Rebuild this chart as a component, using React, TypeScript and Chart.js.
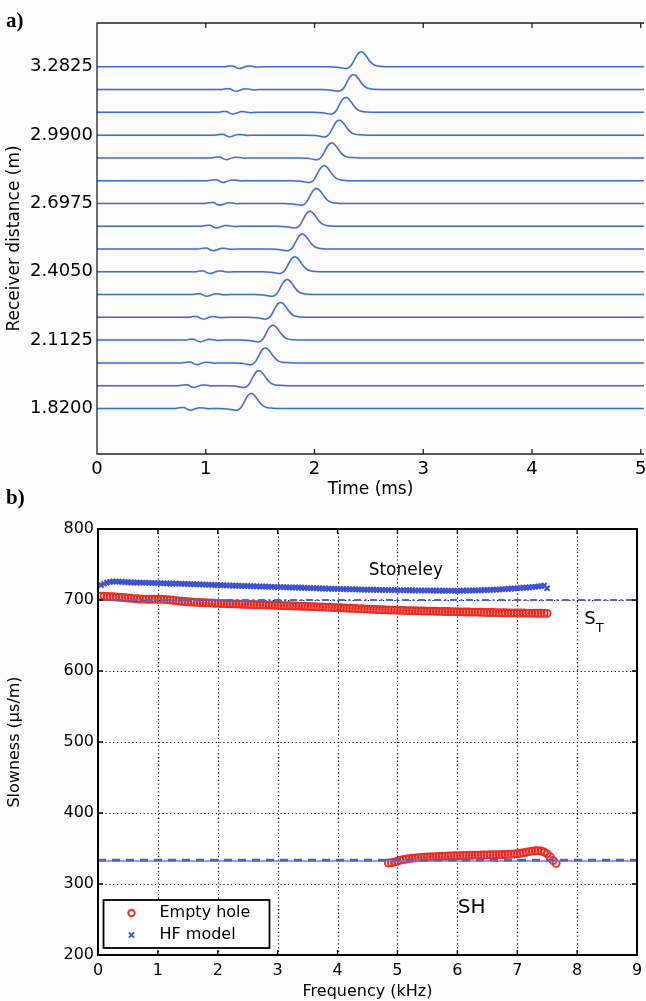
import React, { useEffect, useRef } from "react";
import { Chart, registerables } from "chart.js";

Chart.register(...registerables);

const SANS = "'DejaVu Sans', 'Liberation Sans', sans-serif";

// ---------------- Panel a) : waveforms ----------------
const receiverDistance = [1.82, 1.9175, 2.015, 2.1125, 2.21, 2.3075, 2.405, 2.5025, 2.6, 2.6975, 2.795, 2.8925, 2.99, 3.0875, 3.185, 3.2825];
const distanceTickValues = [1.82, 2.1125, 2.405, 2.6975, 2.99, 3.2825];
const timeTickValues = [0, 1, 2, 3, 4, 5];
// arrival (peak) time of the Stoneley pulse on each trace, ms
const stoneleyPeakTime = [1.42, 1.49, 1.55, 1.62, 1.69, 1.75, 1.82, 1.89, 1.96, 2.02, 2.09, 2.16, 2.23, 2.29, 2.36, 2.43];
// onset of the small early (shear) wiggle on each trace, ms
const shWiggleStart = [0.72, 0.75, 0.78, 0.81, 0.84, 0.87, 0.9, 0.93, 0.96, 0.99, 1.02, 1.05, 1.08, 1.11, 1.14, 1.17];
// pulse shape (time offset from peak, ms / relative amplitude)
const pulseOffset = [-0.3, -0.22, -0.17, -0.14, -0.115, -0.09, -0.065, -0.04, -0.02, 0, 0.02, 0.045, 0.07, 0.095, 0.12, 0.15, 0.19, 0.26];
const pulseShape = [0, -0.03, -0.09, -0.12, -0.06, 0.12, 0.45, 0.78, 0.95, 1, 0.93, 0.72, 0.46, 0.25, 0.12, 0.05, 0.02, 0];
const wiggleOffset = [0, 0.04, 0.08, 0.11, 0.14, 0.18, 0.22, 0.26, 0.3, 0.36];
const wiggleShape = [0, 0.05, 0.06, -0.05, -0.12, -0.03, 0.05, 0.03, -0.02, 0];
const pulseAmplitude = 0.064; // m, peak height of the pulse on the distance axis
const timeMin = 0;
const timeMax = 5.03;

// ---------------- Panel b) : dispersion ----------------
const freqTickValues = [0, 1, 2, 3, 4, 5, 6, 7, 8, 9];
const slownessTickValues = [200, 300, 400, 500, 600, 700, 800];
const stoneleyFreq = [
  0.05, 0.1, 0.15, 0.2, 0.25, 0.3, 0.35, 0.4, 0.45, 0.5,
  0.55, 0.6, 0.65, 0.7, 0.75, 0.8, 0.85, 0.9, 0.95, 1.0,
  1.05, 1.1, 1.15, 1.2, 1.25, 1.3, 1.35, 1.4, 1.45, 1.5,
  1.55, 1.6, 1.65, 1.7, 1.75, 1.8, 1.85, 1.9, 1.95, 2.0,
  2.05, 2.1, 2.15, 2.2, 2.25, 2.3, 2.35, 2.4, 2.45, 2.5,
  2.55, 2.6, 2.65, 2.7, 2.75, 2.8, 2.85, 2.9, 2.95, 3.0,
  3.05, 3.1, 3.15, 3.2, 3.25, 3.3, 3.35, 3.4, 3.45, 3.5,
  3.55, 3.6, 3.65, 3.7, 3.75, 3.8, 3.85, 3.9, 3.95, 4.0,
  4.05, 4.1, 4.15, 4.2, 4.25, 4.3, 4.35, 4.4, 4.45, 4.5,
  4.55, 4.6, 4.65, 4.7, 4.75, 4.8, 4.85, 4.9, 4.95, 5.0,
  5.05, 5.1, 5.15, 5.2, 5.25, 5.3, 5.35, 5.4, 5.45, 5.5,
  5.55, 5.6, 5.65, 5.7, 5.75, 5.8, 5.85, 5.9, 5.95, 6.0,
  6.05, 6.1, 6.15, 6.2, 6.25, 6.3, 6.35, 6.4, 6.45, 6.5,
  6.55, 6.6, 6.65, 6.7, 6.75, 6.8, 6.85, 6.9, 6.95, 7.0,
  7.05, 7.1, 7.15, 7.2, 7.25, 7.3, 7.35, 7.4, 7.45, 7.5,
];
const stoneleyHFModel = [
  721, 723, 724.5, 725.5, 726, 726, 725.8, 725.5, 725.2, 725,
  724.8, 724.6, 724.5, 724.4, 724.3, 724.2, 724.1, 724, 723.9, 723.8,
  723.7, 723.6, 723.4, 723.3, 723.2, 723.1, 722.9, 722.8, 722.6, 722.5,
  722.4, 722.2, 722.1, 721.9, 721.8, 721.6, 721.5, 721.3, 721.2, 721.0,
  720.9, 720.7, 720.6, 720.5, 720.3, 720.2, 720.0, 719.9, 719.8, 719.6,
  719.5, 719.3, 719.2, 719.1, 719.0, 718.8, 718.7, 718.6, 718.4, 718.3,
  718.2, 718.0, 717.9, 717.8, 717.6, 717.5, 717.4, 717.2, 717.1, 716.9,
  716.8, 716.7, 716.5, 716.4, 716.3, 716.2, 716.0, 715.9, 715.8, 715.6,
  715.5, 715.4, 715.3, 715.2, 715.1, 715.0, 714.9, 714.8, 714.6, 714.5,
  714.4, 714.4, 714.3, 714.2, 714.2, 714.1, 714.0, 714.0, 713.9, 713.8,
  713.8, 713.7, 713.7, 713.6, 713.6, 713.5, 713.5, 713.4, 713.4, 713.3,
  713.3, 713.2, 713.2, 713.2, 713.1, 713.1, 713.1, 713.1, 713.1, 713.1,
  713.1, 713.2, 713.2, 713.3, 713.4, 713.5, 713.6, 713.7, 713.9, 714.0,
  714.2, 714.4, 714.6, 714.8, 715.1, 715.4, 715.7, 716.0, 716.3, 716.6,
  716.9, 717.2, 717.5, 717.8, 718.2, 718.6, 719.0, 719.6, 720.3, 716.5,
];
const stoneleyEmptyHole = [
  705.5, 705.3, 705.0, 704.8, 704.5, 704.2, 703.9, 703.6, 703.2, 702.8,
  702.4, 702.0, 701.7, 701.4, 701.2, 701.1, 701.0, 701.0, 701.1, 701.1,
  701.0, 700.8, 700.5, 700.1, 699.6, 699.1, 698.6, 698.2, 697.8, 697.5,
  697.2, 697.0, 696.7, 696.5, 696.3, 696.1, 695.9, 695.7, 695.5, 695.3,
  695.1, 695.0, 694.8, 694.6, 694.5, 694.3, 694.2, 694.0, 693.9, 693.7,
  693.6, 693.5, 693.3, 693.2, 693.1, 692.9, 692.8, 692.7, 692.5, 692.4,
  692.3, 692.1, 692.0, 691.8, 691.7, 691.5, 691.4, 691.2, 691.1, 690.9,
  690.7, 690.6, 690.4, 690.2, 690.1, 689.9, 689.7, 689.5, 689.4, 689.2,
  689.0, 688.8, 688.6, 688.4, 688.2, 688.0, 687.8, 687.6, 687.4, 687.2,
  687.0, 686.8, 686.6, 686.4, 686.3, 686.1, 686.0, 685.8, 685.7, 685.5,
  685.4, 685.3, 685.1, 685.0, 684.9, 684.8, 684.7, 684.6, 684.5, 684.4,
  684.3, 684.2, 684.1, 684.0, 683.9, 683.8, 683.7, 683.6, 683.5, 683.4,
  683.3, 683.2, 683.1, 683.0, 682.9, 682.9, 682.8, 682.7, 682.6, 682.5,
  682.4, 682.3, 682.2, 682.2, 682.1, 682.0, 681.9, 681.9, 681.8, 681.7,
  681.7, 681.6, 681.5, 681.5, 681.4, 681.4, 681.3, 681.3, 681.2, 681.2,
];
const shFreq = [
  4.85, 4.9, 4.95, 5.0, 5.05, 5.1, 5.15, 5.2, 5.25, 5.3,
  5.35, 5.4, 5.45, 5.5, 5.55, 5.6, 5.65, 5.7, 5.75, 5.8,
  5.85, 5.9, 5.95, 6.0, 6.05, 6.1, 6.15, 6.2, 6.25, 6.3,
  6.35, 6.4, 6.45, 6.5, 6.55, 6.6, 6.65, 6.7, 6.75, 6.8,
  6.85, 6.9, 6.95, 7.0, 7.05, 7.1, 7.15, 7.2, 7.25, 7.3,
  7.35, 7.4, 7.45, 7.5, 7.55, 7.6, 7.65,
];
const shEmptyHole = [
  329.5, 330, 331, 332, 333.5, 334.5, 335.2, 335.8, 336.3, 336.7,
  337.1, 337.4, 337.7, 338.0, 338.2, 338.4, 338.6, 338.8, 339.0, 339.2,
  339.4, 339.6, 339.7, 339.9, 340.0, 340.2, 340.3, 340.4, 340.5, 340.6,
  340.7, 340.8, 340.9, 341.0, 341.1, 341.2, 341.3, 341.4, 341.5, 341.6,
  341.8, 342.0, 342.3, 342.7, 343.3, 344.0, 344.8, 345.6, 346.3, 346.8,
  347.0, 346.5, 345.0, 342.5, 338.5, 333, 329,
];
const tubeWaveSlowness = 700; // S_T
const shSlownessLine = 333.5; // SH (dashed)
const shHFModel = 332.5; // HF model SH (solid)

const RED = "rgb(238, 45, 35)";
const BLUE = "rgb(62, 82, 205)";

function buildTrace(i: number) {
  const base = receiverDistance[i];
  const pts: { x: number; y: number }[] = [{ x: timeMin, y: base }];
  wiggleOffset.forEach((o, k) => pts.push({ x: shWiggleStart[i] + o, y: base + pulseAmplitude * wiggleShape[k] }));
  pulseOffset.forEach((o, k) => pts.push({ x: stoneleyPeakTime[i] + o, y: base + pulseAmplitude * pulseShape[k] }));
  pts.push({ x: timeMax, y: base });
  return pts;
}

const topFrame = {
  id: "topFrame",
  afterDraw(chart: any) {
    const { ctx, chartArea: a, scales } = chart;
    const x = scales.x;
    ctx.save();
    ctx.strokeStyle = "#222";
    ctx.lineWidth = 1.3;
    ctx.beginPath();
    ctx.moveTo(a.right, a.top);
    ctx.lineTo(a.left, a.top);
    ctx.lineTo(a.left, a.bottom);
    ctx.lineTo(a.right, a.bottom);
    timeTickValues.forEach((v) => {
      if (v === 0) return;
      const px = x.getPixelForValue(v);
      ctx.moveTo(px, a.top);
      ctx.lineTo(px, a.top + 5);
      ctx.moveTo(px, a.bottom);
      ctx.lineTo(px, a.bottom - 5);
    });
    ctx.stroke();
    ctx.restore();
  },
};

const bottomPlugin = {
  id: "bottomDecor",
  beforeDraw(chart: any) {
    const { ctx, chartArea: a } = chart;
    ctx.save();
    ctx.fillStyle = "#ffffff";
    ctx.fillRect(a.left, a.top, a.right - a.left, a.bottom - a.top);
    ctx.restore();
  },
  beforeDatasetsDraw(chart: any) {
    const { ctx, chartArea: a, scales } = chart;
    ctx.save();
    ctx.strokeStyle = "#000";
    ctx.lineWidth = 1.2;
    ctx.setLineDash([1.2, 2.6]);
    ctx.beginPath();
    freqTickValues.forEach((v, i) => {
      if (i === 0 || i === freqTickValues.length - 1) return;
      const px = Math.round(scales.x.getPixelForValue(v)) + 0.5;
      ctx.moveTo(px, a.top);
      ctx.lineTo(px, a.bottom);
    });
    slownessTickValues.forEach((v, i) => {
      if (i === 0 || i === slownessTickValues.length - 1) return;
      const py = Math.round(scales.y.getPixelForValue(v)) + 0.5;
      ctx.moveTo(a.left, py);
      ctx.lineTo(a.right, py);
    });
    ctx.stroke();
    ctx.restore();
  },
  afterDraw(chart: any) {
    const { ctx, chartArea: a, scales } = chart;
    const x = scales.x;
    const y = scales.y;
    ctx.save();
    // frame + inner ticks
    ctx.strokeStyle = "#000";
    ctx.lineWidth = 2;
    ctx.strokeRect(a.left, a.top, a.right - a.left, a.bottom - a.top);
    ctx.lineWidth = 1.3;
    ctx.beginPath();
    freqTickValues.forEach((v, i) => {
      if (i === 0 || i === freqTickValues.length - 1) return;
      const px = x.getPixelForValue(v);
      ctx.moveTo(px, a.top);
      ctx.lineTo(px, a.top + 5);
      ctx.moveTo(px, a.bottom);
      ctx.lineTo(px, a.bottom - 5);
    });
    slownessTickValues.forEach((v, i) => {
      if (i === 0 || i === slownessTickValues.length - 1) return;
      const py = y.getPixelForValue(v);
      ctx.moveTo(a.left, py);
      ctx.lineTo(a.left + 5, py);
      ctx.moveTo(a.right, py);
      ctx.lineTo(a.right - 5, py);
    });
    ctx.stroke();

    // annotations
    ctx.fillStyle = "#000";
    ctx.textBaseline = "middle";
    ctx.textAlign = "center";
    ctx.font = `17px ${SANS}`;
    ctx.fillText("Stoneley", x.getPixelForValue(5.14), y.getPixelForValue(741));
    ctx.font = `20px ${SANS}`;
    ctx.fillText("SH", x.getPixelForValue(6.24), y.getPixelForValue(266));
    ctx.textAlign = "left";
    ctx.font = `18px ${SANS}`;
    const sx = x.getPixelForValue(8.12);
    const sy = y.getPixelForValue(673);
    ctx.fillText("S", sx, sy);
    const sw = ctx.measureText("S").width;
    ctx.font = `13px ${SANS}`;
    ctx.fillText("T", sx + sw, sy + 9);

    // legend box
    const lx = a.left + 5.5;
    const lw = 166;
    const lh = 48;
    const ly = a.bottom - 7 - lh;
    ctx.fillStyle = "#fff";
    ctx.fillRect(lx, ly, lw, lh);
    ctx.strokeStyle = "#000";
    ctx.lineWidth = 1.8;
    ctx.strokeRect(lx, ly, lw, lh);
    // markers
    ctx.strokeStyle = RED;
    ctx.lineWidth = 2;
    ctx.beginPath();
    ctx.arc(lx + 28, ly + 13, 3.2, 0, Math.PI * 2);
    ctx.stroke();
    ctx.strokeStyle = BLUE;
    ctx.beginPath();
    const bx = lx + 28;
    const by = ly + 35;
    ctx.moveTo(bx - 2.6, by - 2.6);
    ctx.lineTo(bx + 2.6, by + 2.6);
    ctx.moveTo(bx + 2.6, by - 2.6);
    ctx.lineTo(bx - 2.6, by + 2.6);
    ctx.stroke();
    ctx.fillStyle = "#000";
    ctx.font = `16px ${SANS}`;
    ctx.textAlign = "left";
    ctx.fillText("Empty hole", lx + 56, ly + 13);
    ctx.fillText("HF model", lx + 56, ly + 35);
    ctx.restore();
  },
};

function topConfig(): any {
  const datasets: any[] = [];
  receiverDistance.forEach((_, i) => {
    const pts = buildTrace(i);
    datasets.push({
      data: pts,
      borderColor: "#3d6fd6",
      borderWidth: 1.5,
      pointRadius: 0,
      cubicInterpolationMode: "monotone",
      order: 0,
    });
    datasets.push({
      data: pts,
      borderColor: "rgba(230, 130, 170, 0.16)",
      borderWidth: 2.6,
      pointRadius: 0,
      cubicInterpolationMode: "monotone",
      order: 1,
    });
  });
  return {
    type: "line",
    data: { datasets },
    options: {
      animation: false,
      responsive: false,
      events: [],
      layout: { padding: { top: 23, right: 2, left: 0, bottom: 0 } },
      plugins: { legend: { display: false }, tooltip: { enabled: false } },
      scales: {
        x: {
          type: "linear",
          min: timeMin,
          max: timeMax,
          grid: { display: false, drawTicks: false },
          border: { display: false },
          afterBuildTicks: (s: any) => {
            s.ticks = timeTickValues.map((v) => ({ value: v }));
          },
          ticks: { padding: 5, color: "#000", font: { family: SANS, size: 18 }, maxRotation: 0, autoSkip: false },
          title: { display: true, text: "Time (ms)", color: "#000", font: { family: SANS, size: 17 }, padding: { top: 0, bottom: 0 } },
          afterFit: (s: any) => {
            s.height = 46;
            s.paddingLeft = 0;
            s.paddingRight = 0;
          },
        },
        y: {
          type: "linear",
          min: 1.625,
          max: 3.47,
          grid: { display: false, drawTicks: false },
          border: { display: false },
          afterBuildTicks: (s: any) => {
            s.ticks = distanceTickValues.map((v) => ({ value: v }));
          },
          ticks: {
            padding: 4,
            color: "#000",
            font: { family: SANS, size: 18 },
            autoSkip: false,
            callback: (v: any) => Number(v).toFixed(4),
          },
          title: { display: true, text: "Receiver distance (m)", color: "#000", font: { family: SANS, size: 17 }, padding: { top: 4, bottom: 0 } },
          afterFit: (s: any) => {
            s.width = 97;
            s.paddingTop = 0;
            s.paddingBottom = 0;
          },
        },
      },
    },
    plugins: [topFrame],
  };
}

function bottomConfig(): any {
  const pts = (xs: number[], ys: number[]) => xs.map((f, i) => ({ x: f, y: ys[i] }));
  const flat = (v: number) => [
    { x: freqTickValues[0], y: v },
    { x: freqTickValues[freqTickValues.length - 1], y: v },
  ];
  const datasets: any[] = [
    {
      data: flat(tubeWaveSlowness),
      showLine: true,
      borderColor: "#4a67cf",
      borderWidth: 2,
      borderDash: [7, 3.5, 2, 3.5],
      pointRadius: 0,
    },
    {
      data: flat(shSlownessLine),
      showLine: true,
      borderColor: "#4a62cc",
      borderWidth: 2.8,
      borderDash: [8, 6],
      pointRadius: 0,
    },
    {
      data: flat(shHFModel),
      showLine: true,
      borderColor: "#6a7fe0",
      borderWidth: 1.6,
      pointRadius: 0,
    },
    {
      data: pts(stoneleyFreq, stoneleyHFModel),
      showLine: false,
      pointStyle: "crossRot",
      pointRadius: 3.6,
      pointBorderWidth: 2.1,
      pointBorderColor: BLUE,
      pointBackgroundColor: BLUE,
    },
    {
      data: pts(shFreq, shEmptyHole),
      showLine: false,
      pointStyle: "circle",
      pointRadius: 3.5,
      pointBorderWidth: 1.9,
      pointBorderColor: RED,
      pointBackgroundColor: "rgba(255,255,255,0)",
    },
    {
      data: pts(stoneleyFreq, stoneleyEmptyHole),
      showLine: false,
      pointStyle: "circle",
      pointRadius: 3.5,
      pointBorderWidth: 1.9,
      pointBorderColor: RED,
      pointBackgroundColor: "rgba(255,255,255,0)",
    },
  ];
  return {
    type: "scatter",
    data: { datasets },
    options: {
      animation: false,
      responsive: false,
      events: [],
      layout: { padding: { top: 29, right: 9, left: 0, bottom: 0 } },
      plugins: { legend: { display: false }, tooltip: { enabled: false } },
      scales: {
        x: {
          type: "linear",
          min: 0,
          max: 9,
          grid: { display: false, drawTicks: false },
          border: { display: false },
          afterBuildTicks: (s: any) => {
            s.ticks = freqTickValues.map((v) => ({ value: v }));
          },
          ticks: { padding: 6, color: "#000", font: { family: SANS, size: 16 }, maxRotation: 0, autoSkip: false },
          title: { display: true, text: "Frequency (kHz)", color: "#000", font: { family: SANS, size: 16 }, padding: { top: 0, bottom: 0 } },
          afterFit: (s: any) => {
            s.height = 46;
            s.paddingLeft = 0;
            s.paddingRight = 0;
          },
        },
        y: {
          type: "linear",
          min: 200,
          max: 800,
          grid: { display: false, drawTicks: false },
          border: { display: false },
          afterBuildTicks: (s: any) => {
            s.ticks = slownessTickValues.map((v) => ({ value: v }));
          },
          ticks: { padding: 4, color: "#000", font: { family: SANS, size: 16 }, autoSkip: false },
          title: { display: true, text: "Slowness (μs/m)", color: "#000", font: { family: SANS, size: 16 }, padding: { top: 5, bottom: 0 } },
          afterFit: (s: any) => {
            s.width = 98;
            s.paddingTop = 0;
            s.paddingBottom = 0;
          },
        },
      },
    },
    plugins: [bottomPlugin],
  };
}

export default function App() {
  const topRef = useRef<HTMLCanvasElement>(null);
  const botRef = useRef<HTMLCanvasElement>(null);
  useEffect(() => {
    const c1 = new Chart(topRef.current as HTMLCanvasElement, topConfig());
    const c2 = new Chart(botRef.current as HTMLCanvasElement, bottomConfig());
    return () => {
      c1.destroy();
      c2.destroy();
    };
  }, []);
  const panelLabel: React.CSSProperties = {
    position: "absolute",
    left: 6,
    font: "bold 21px 'Liberation Serif', serif",
    lineHeight: "20px",
    color: "#000",
  };
  return (
    <div style={{ position: "absolute", left: 0, top: 0, width: 646, height: 1001, background: "#fcfcfd", overflow: "hidden" }}>
      <canvas ref={topRef} width={646} height={500} style={{ position: "absolute", left: 0, top: 0 }} />
      <canvas ref={botRef} width={646} height={501} style={{ position: "absolute", left: 0, top: 500 }} />
      <div style={{ ...panelLabel, top: 10 }}>a)</div>
      <div style={{ ...panelLabel, top: 487 }}>b)</div>
    </div>
  );
}
